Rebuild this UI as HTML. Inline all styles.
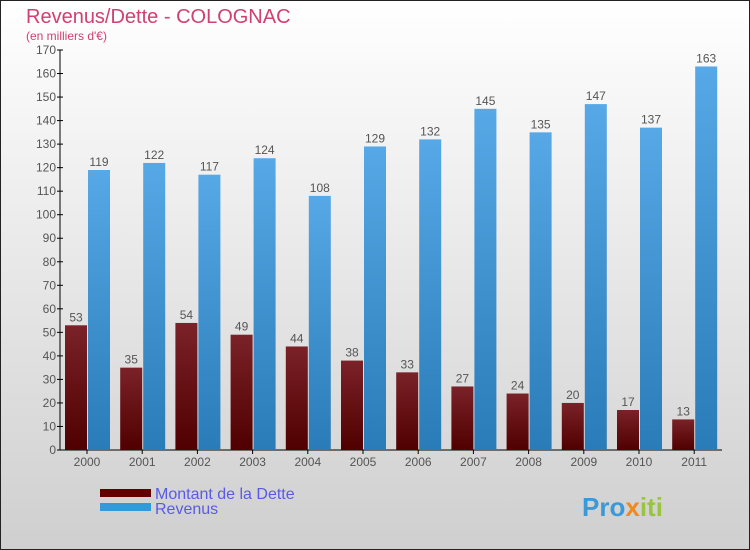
<!DOCTYPE html>
<html><head><meta charset="utf-8"><style>
body{margin:0;}
#c{width:750px;height:550px;position:relative;overflow:hidden;}
svg text{font-family:"Liberation Sans",sans-serif;}
</style></head><body>
<div id="c">
<svg id="s" width="750" height="550" xmlns="http://www.w3.org/2000/svg">
<defs>
<linearGradient id="bg" x1="0" y1="0" x2="0" y2="1"><stop offset="0" stop-color="#ffffff"/><stop offset="1" stop-color="#cfcfcf"/></linearGradient>
<linearGradient id="gd" x1="0" y1="0" x2="0" y2="1"><stop offset="0" stop-color="#7a2228"/><stop offset="1" stop-color="#500000"/></linearGradient>
<linearGradient id="gr" x1="0" y1="0" x2="0" y2="1"><stop offset="0" stop-color="#56a8e6"/><stop offset="1" stop-color="#2a7cb8"/></linearGradient>
</defs>
<rect x="0.5" y="0.5" width="749" height="549" fill="url(#bg)" stroke="#222"/>
<text x="26" y="23" font-size="20" fill="#d04070">Revenus/Dette - COLOGNAC</text>
<text x="26" y="40" font-size="12" fill="#d04070">(en milliers d'€)</text>
<g id="axes"></g><g id="bars"></g>
<rect x="100" y="489" width="51" height="8" fill="#600000"/>
<rect x="100" y="503" width="51" height="8" fill="#3399dd"/>
<text x="155" y="499" font-size="16" fill="#5a5ae6">Montant de la Dette</text>
<text x="155" y="514" font-size="16" fill="#5a5ae6">Revenus</text>
<text x="582" y="516" font-size="26" font-weight="bold" fill="#3a9ad9">Pro<tspan fill="#f08a1c">x</tspan><tspan fill="#9ac43c">iti</tspan></text>
</svg></div>
<script>
const years=["2000","2001","2002","2003","2004","2005","2006","2007","2008","2009","2010","2011"];
const debt=[53,35,54,49,44,38,33,27,24,20,17,13];
const revenue=[119,122,117,124,108,129,132,145,135,147,137,163];
const yTicks=[0,10,20,30,40,50,60,70,80,90,100,110,120,130,140,150,160,170];
const NS="http://www.w3.org/2000/svg";
const y0=450,yMax=170,pxH=400,x0=65,step=55.2,bw=22;
const yS=v=>y0-v*pxH/yMax;
function mk(t,a,p){const e=document.createElementNS(NS,t);for(const k in a)e.setAttribute(k,a[k]);p.appendChild(e);return e;}
const ax=document.getElementById('axes'),bg=document.getElementById('bars');
let l=mk('line',{x1:60,y1:y0,x2:60,y2:yS(170),stroke:'#000'},ax);


l=mk('line',{x1:60,y1:y0,x2:722,y2:y0,stroke:'#000'},ax);


yTicks.forEach(v=>{
 const t=mk('line',{x1:57,x2:63,y1:yS(v),y2:yS(v),stroke:'#000'},ax);
 
 
 const tx=mk('text',{x:56,y:yS(v)+4,'font-size':12,fill:'#555','text-anchor':'end'},ax);tx.textContent=v;
 
 
});
years.forEach((yr,i)=>{
 const gx=x0+step*i;
 const t=mk('line',{x1:gx+bw,x2:gx+bw,y1:y0,y2:y0+4,stroke:'#000'},ax);
 
 
 const tx=mk('text',{x:gx+bw,y:466,'font-size':12,fill:'#555','text-anchor':'middle'},ax);tx.textContent=yr;
 
 
 const b1=mk('rect',{x:gx,y:yS(debt[i]),width:bw,height:y0-yS(debt[i]),fill:'url(#gd)'},bg);
 
 
 const b2=mk('rect',{x:gx+bw+1,y:yS(revenue[i]),width:bw,height:y0-yS(revenue[i]),fill:'url(#gr)'},bg);
 
 
 const v1=mk('text',{x:gx+bw/2,y:yS(debt[i])-4,'font-size':12,fill:'#555','text-anchor':'middle'},bg);v1.textContent=debt[i];
 
 
 const v2=mk('text',{x:gx+bw*1.5+1,y:yS(revenue[i])-4,'font-size':12,fill:'#555','text-anchor':'middle'},bg);v2.textContent=revenue[i];
 
 
});
</script>
</body></html>
